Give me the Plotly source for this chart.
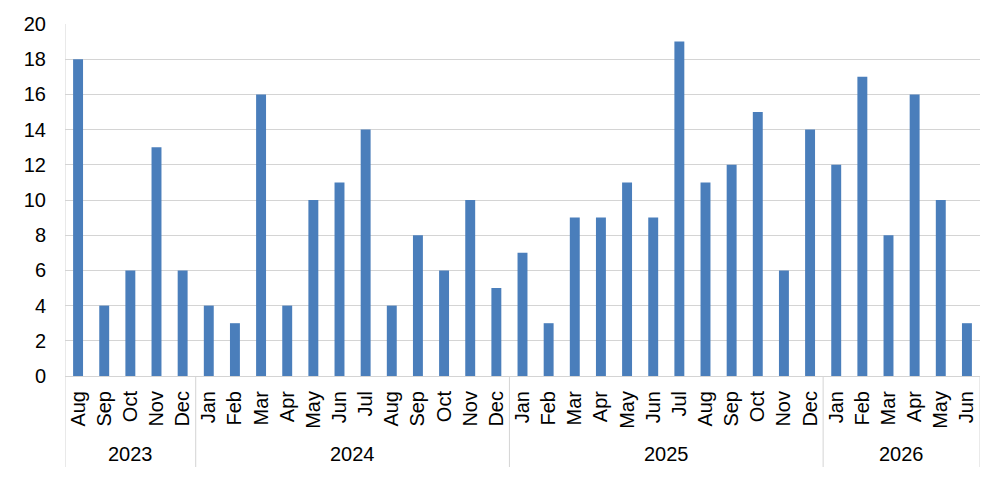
import plotly.graph_objects as go

months = ["Aug", "Sep", "Oct", "Nov", "Dec",
          "Jan", "Feb", "Mar", "Apr", "May", "Jun", "Jul", "Aug", "Sep", "Oct", "Nov", "Dec",
          "Jan", "Feb", "Mar", "Apr", "May", "Jun", "Jul", "Aug", "Sep", "Oct", "Nov", "Dec",
          "Jan", "Feb", "Mar", "Apr", "May", "Jun"]
years = ["2023", "2024", "2025", "2026"]
year_counts = [5, 12, 12, 6]
values = [18, 4, 6, 13, 6,
          4, 3, 16, 4, 10, 11, 14, 4, 8, 6, 10, 5,
          7, 3, 9, 9, 11, 9, 19, 11, 12, 15, 6, 14,
          12, 17, 8, 16, 10, 3]

W, H = 1005, 483
ml, mr, mt, mb = 65, 25, 24, 107
plot_h = H - mt - mb

idx = list(range(len(values)))
fig = go.Figure(go.Bar(x=idx, y=values, marker=dict(color="#4a7ebb", line=dict(width=0)),
                       width=0.38))

font = dict(family="Liberation Sans, Arial, sans-serif", size=20, color="#000000")
grid = "#d4d4d4"

shapes = []
annotations = []
start = 0
bounds = [-0.5]
for y, c in zip(years, year_counts):
    center = start + (c - 1) / 2
    annotations.append(dict(x=center, y=-(454 - (H - mb)) / plot_h, xref="x", yref="paper",
                            text=y, showarrow=False, font=font, yanchor="middle"))
    start += c
    bounds.append(start - 0.5)
for b in bounds:
    shapes.append(dict(type="line", xref="x", yref="paper", x0=b, x1=b,
                       y0=0, y1=-(467 - (H - mb)) / plot_h, line=dict(color=grid, width=1)))
shapes.append(dict(type="line", xref="x", yref="paper", x0=-0.5, x1=-0.5, y0=0, y1=1,
                   line=dict(color=grid, width=1)))

fig.update_layout(
    width=W, height=H,
    margin=dict(l=ml, r=mr, t=mt, b=mb),
    paper_bgcolor="white", plot_bgcolor="white",
    showlegend=False,
    font=font,
    shapes=shapes,
    annotations=annotations,
    xaxis=dict(range=[-0.5, len(values) - 0.5], tickmode="array", tickvals=idx, ticktext=months,
               tickangle=-90, showgrid=False, zeroline=False, showline=True, linecolor=grid,
               linewidth=1, ticks="", tickfont=font, ticklabelstandoff=6),
    yaxis=dict(range=[0, 20], dtick=2, showgrid=True, gridcolor=grid, gridwidth=1,
               zeroline=False, showline=False, ticks="", tickfont=font, ticklabelstandoff=18),
)

fig.write_html("out.html")
